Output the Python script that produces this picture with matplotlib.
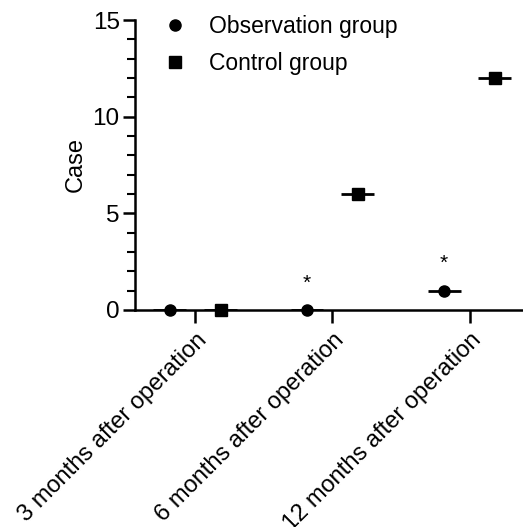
import numpy as np
import matplotlib
matplotlib.use("Agg")
from matplotlib import pyplot as plt

plt.rcParams['font.family'] = ['Liberation Sans', 'DejaVu Sans']

## dados ##
categorias = ['3 months after operation', '6 months after operation', '12 months after operation']
observacao = [0, 0, 1]
controle = [0, 6, 12]
signif = ['', '*', '*']   # marca sobre o grupo observação

fig = plt.figure(figsize=(5.23, 5.27), dpi=100)
ax = fig.add_axes([0.258, 0.412, 0.742, 0.550])

x = np.arange(len(categorias))
desloc = 0.185
meia = 0.12

xo = x - desloc
xc = x + desloc
ax.hlines(observacao, xo - meia, xo + meia, color='black', lw=2, zorder=3)
ax.hlines(controle, xc - meia, xc + meia, color='black', lw=2, zorder=3)
ax.plot(xo, observacao, 'o', color='black', ms=8, clip_on=False, zorder=4, label='Observation group')
ax.plot(xc, controle, 's', color='black', ms=8, clip_on=False, zorder=4, label='Control group')

for xi, yi, s in zip(xo, observacao, signif):
    if s:
        ax.text(xi, yi + 0.9, s, ha='center', va='bottom', fontsize=15)

ax.set_xlim(-0.44, 2.39)
ax.set_ylim(0, 15)
ax.set_yticks([0, 5, 10, 15])
ax.set_yticks(np.arange(0, 16, 1), minor=True)
ax.set_xticks(x)
ax.set_xticklabels(categorias, rotation=45, ha='right', rotation_mode='anchor', fontsize=17)
ax.tick_params(axis='y', which='major', length=9, width=1.8, labelsize=17.5, pad=2)
ax.tick_params(axis='y', which='minor', length=6, width=1.5)
ax.tick_params(axis='x', length=9, width=1.8, pad=5)
ax.set_ylabel('Case', fontsize=17, labelpad=4)

for lado in ['top', 'right']:
    ax.spines[lado].set_visible(False)
for lado in ['left', 'bottom']:
    ax.spines[lado].set_linewidth(1.8)

ax.legend(loc='upper left', bbox_to_anchor=(0.005, 1.09), frameon=False, fontsize=16.5,
          handletextpad=0.75, labelspacing=0.65, handlelength=1.5)

plt.savefig('out.png', dpi=100)
